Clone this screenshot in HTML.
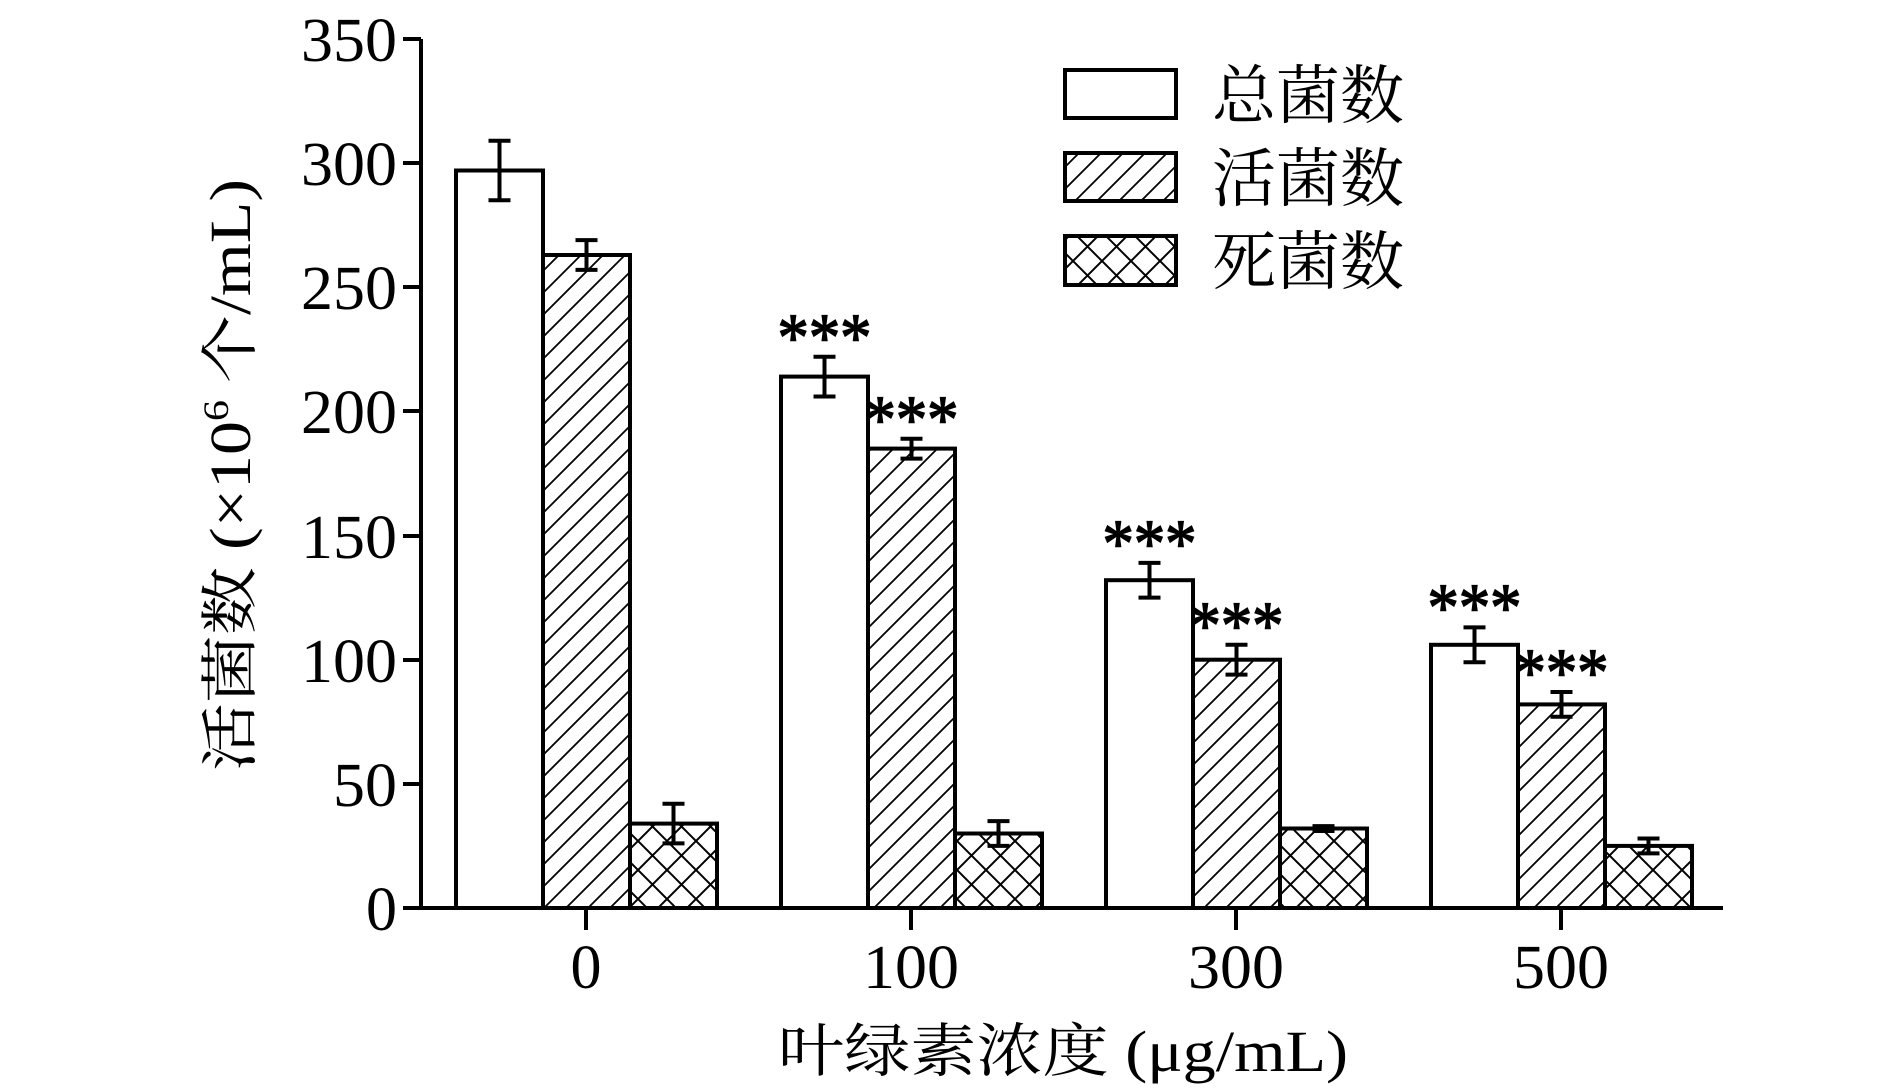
<!DOCTYPE html>
<html><head><meta charset="utf-8"><style>body{margin:0;background:#fff}svg{display:block}</style></head>
<body>
<svg width="1890" height="1090" viewBox="0 0 1890 1090" xmlns="http://www.w3.org/2000/svg" font-family="Liberation Serif, 'Noto Serif CJK SC', serif">
<defs>
<pattern id="diag" patternUnits="userSpaceOnUse" width="22" height="22">
<path d="M-2,24 L24,-2 M-13,13 L13,-13 M9,35 L35,9" stroke="#000" stroke-width="1.8"/>
</pattern>
<pattern id="cross" patternUnits="userSpaceOnUse" width="29" height="29">
<path d="M0,0 L29,29 M0,29 L29,0" stroke="#000" stroke-width="2"/>
</pattern>
</defs>
<g stroke="#000" stroke-width="4">
<rect x="456" y="170.5" width="87" height="737.5" fill="#fff"/>
<rect x="543" y="255" width="87" height="653" fill="url(#diag)"/>
<rect x="630" y="823.6" width="87" height="84.4" fill="url(#cross)"/>
<rect x="781" y="376.6" width="87" height="531.4" fill="#fff"/>
<rect x="868" y="448.6" width="87" height="459.4" fill="url(#diag)"/>
<rect x="955" y="833.5" width="87" height="74.5" fill="url(#cross)"/>
<rect x="1106" y="580.2" width="87" height="327.8" fill="#fff"/>
<rect x="1193" y="659.7" width="87" height="248.3" fill="url(#diag)"/>
<rect x="1280" y="828.5" width="87" height="79.5" fill="url(#cross)"/>
<rect x="1431" y="644.8" width="87" height="263.2" fill="#fff"/>
<rect x="1518" y="704.4" width="87" height="203.6" fill="url(#diag)"/>
<rect x="1605" y="845.9" width="87" height="62.1" fill="url(#cross)"/>
</g>
<g stroke="#000" stroke-width="4" fill="none">
<path d="M499.5,140.8V200.3M488.5,140.8H510.5M488.5,200.3H510.5"/>
<path d="M586.5,240.1V269.9M575.5,240.1H597.5M575.5,269.9H597.5"/>
<path d="M673.5,803.7V843.4M662.5,803.7H684.5M662.5,843.4H684.5"/>
<path d="M824.5,356.8V396.5M813.5,356.8H835.5M813.5,396.5H835.5"/>
<path d="M911.5,438.7V458.6M900.5,438.7H922.5M900.5,458.6H922.5"/>
<path d="M998.5,821.1V845.9M987.5,821.1H1009.5M987.5,845.9H1009.5"/>
<path d="M1149.5,562.9V597.6M1138.5,562.9H1160.5M1138.5,597.6H1160.5"/>
<path d="M1236.5,644.8V674.6M1225.5,644.8H1247.5M1225.5,674.6H1247.5"/>
<path d="M1323.5,826.1V831M1312.5,826.1H1334.5M1312.5,831H1334.5"/>
<path d="M1474.5,627.4V662.2M1463.5,627.4H1485.5M1463.5,662.2H1485.5"/>
<path d="M1561.5,692V716.8M1550.5,692H1572.5M1550.5,716.8H1572.5"/>
<path d="M1648.5,838.5V853.4M1637.5,838.5H1659.5M1637.5,853.4H1659.5"/>
</g>
<g font-size="68" text-anchor="middle" fill="#000" stroke="#000" stroke-width="1.5">
<text x="824.5" y="360" textLength="94" lengthAdjust="spacingAndGlyphs">***</text>
<text x="911.5" y="442" textLength="94" lengthAdjust="spacingAndGlyphs">***</text>
<text x="1149.5" y="566" textLength="94" lengthAdjust="spacingAndGlyphs">***</text>
<text x="1236.5" y="648" textLength="94" lengthAdjust="spacingAndGlyphs">***</text>
<text x="1474.5" y="630" textLength="94" lengthAdjust="spacingAndGlyphs">***</text>
<text x="1561.5" y="695" textLength="94" lengthAdjust="spacingAndGlyphs">***</text>
</g>
<g stroke="#000" stroke-width="4" fill="none">
<path d="M421,39 V908 H1723"/>
<path d="M403,39H421 M403,163H421 M403,287H421 M403,411H421 M403,536H421 M403,660H421 M403,784H421 M403,908H421"/>
<path d="M586,908V930 M911,908V930 M1236,908V930 M1561,908V930"/>
</g>
<g font-size="62" text-anchor="end" fill="#000">
<text x="397" y="61" textLength="96" lengthAdjust="spacingAndGlyphs">350</text>
<text x="397" y="185" textLength="96" lengthAdjust="spacingAndGlyphs">300</text>
<text x="397" y="309" textLength="96" lengthAdjust="spacingAndGlyphs">250</text>
<text x="397" y="433" textLength="96" lengthAdjust="spacingAndGlyphs">200</text>
<text x="397" y="558" textLength="96" lengthAdjust="spacingAndGlyphs">150</text>
<text x="397" y="682" textLength="96" lengthAdjust="spacingAndGlyphs">100</text>
<text x="397" y="806" textLength="64" lengthAdjust="spacingAndGlyphs">50</text>
<text x="397" y="930">0</text>
</g>
<g font-size="62" text-anchor="middle" fill="#000">
<text x="586" y="988">0</text>
<text x="911" y="988" textLength="96" lengthAdjust="spacingAndGlyphs">100</text>
<text x="1236" y="988" textLength="96" lengthAdjust="spacingAndGlyphs">300</text>
<text x="1561" y="988" textLength="96" lengthAdjust="spacingAndGlyphs">500</text>
</g>
<text x="1063" y="1071" font-size="58" text-anchor="middle" fill="#000" textLength="570" lengthAdjust="spacingAndGlyphs">叶绿素浓度 (μg/mL)</text>
<text transform="translate(250,475) rotate(-90)" font-size="58" text-anchor="middle" fill="#000" textLength="592" lengthAdjust="spacingAndGlyphs">活菌数 (×10<tspan font-size="36" dy="-22">6</tspan><tspan dy="22"> 个/mL)</tspan></text>
<g stroke="#000" stroke-width="4">
<rect x="1065" y="70" width="111" height="48" fill="#fff"/>
<rect x="1065" y="153" width="111" height="48" fill="url(#diag)"/>
<rect x="1065" y="236" width="111" height="49" fill="url(#cross)"/>
</g>
<g font-size="64" fill="#000" font-family="'Noto Serif CJK SC', serif">
<text x="1212" y="118">总菌数</text>
<text x="1212" y="201">活菌数</text>
<text x="1212" y="284">死菌数</text>
</g>
</svg>
</body></html>
